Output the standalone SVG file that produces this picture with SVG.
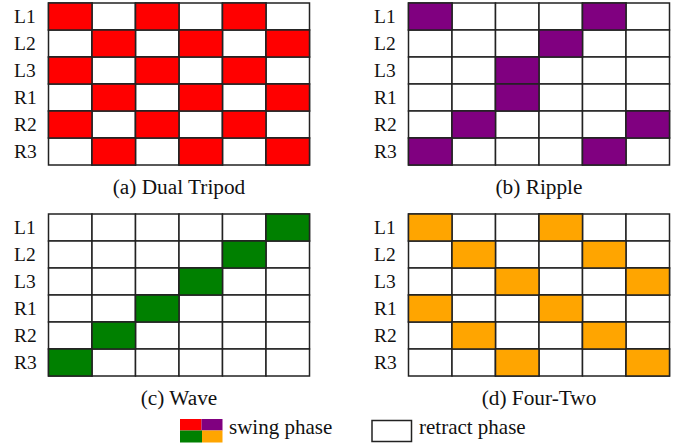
<svg xmlns="http://www.w3.org/2000/svg" width="684" height="444" viewBox="0 0 684 444">
<style>
.c{fill:#fff;stroke:#222;stroke-width:1.5}
.r{fill:#ff0000}.p{fill:#800080}.g{fill:#008000}.o{fill:#ffa500}
.lb{font-family:"Liberation Serif",serif;font-size:19.5px;fill:#111}
.lg{font-family:"Liberation Serif",serif;font-size:21px;fill:#111}
.cap{font-family:"Liberation Serif",serif;font-size:21.3px;fill:#111;text-anchor:middle}
</style>
<defs>
<g id="grid">
<rect class="c" x="0" y="0" width="43.5" height="27"/><rect class="c" x="43.5" y="0" width="43.5" height="27"/><rect class="c" x="87" y="0" width="43.5" height="27"/><rect class="c" x="130.5" y="0" width="43.5" height="27"/><rect class="c" x="174" y="0" width="43.5" height="27"/><rect class="c" x="217.5" y="0" width="43.5" height="27"/>
<rect class="c" x="0" y="27" width="43.5" height="27"/><rect class="c" x="43.5" y="27" width="43.5" height="27"/><rect class="c" x="87" y="27" width="43.5" height="27"/><rect class="c" x="130.5" y="27" width="43.5" height="27"/><rect class="c" x="174" y="27" width="43.5" height="27"/><rect class="c" x="217.5" y="27" width="43.5" height="27"/>
<rect class="c" x="0" y="54" width="43.5" height="27"/><rect class="c" x="43.5" y="54" width="43.5" height="27"/><rect class="c" x="87" y="54" width="43.5" height="27"/><rect class="c" x="130.5" y="54" width="43.5" height="27"/><rect class="c" x="174" y="54" width="43.5" height="27"/><rect class="c" x="217.5" y="54" width="43.5" height="27"/>
<rect class="c" x="0" y="81" width="43.5" height="27"/><rect class="c" x="43.5" y="81" width="43.5" height="27"/><rect class="c" x="87" y="81" width="43.5" height="27"/><rect class="c" x="130.5" y="81" width="43.5" height="27"/><rect class="c" x="174" y="81" width="43.5" height="27"/><rect class="c" x="217.5" y="81" width="43.5" height="27"/>
<rect class="c" x="0" y="108" width="43.5" height="27"/><rect class="c" x="43.5" y="108" width="43.5" height="27"/><rect class="c" x="87" y="108" width="43.5" height="27"/><rect class="c" x="130.5" y="108" width="43.5" height="27"/><rect class="c" x="174" y="108" width="43.5" height="27"/><rect class="c" x="217.5" y="108" width="43.5" height="27"/>
<rect class="c" x="0" y="135" width="43.5" height="27"/><rect class="c" x="43.5" y="135" width="43.5" height="27"/><rect class="c" x="87" y="135" width="43.5" height="27"/><rect class="c" x="130.5" y="135" width="43.5" height="27"/><rect class="c" x="174" y="135" width="43.5" height="27"/><rect class="c" x="217.5" y="135" width="43.5" height="27"/>
</g>
<g id="labels" class="lb">
<text x="-34.5" y="20">L1</text><text x="-34.5" y="47">L2</text><text x="-34.5" y="74">L3</text><text x="-34.5" y="101">R1</text><text x="-34.5" y="128">R2</text><text x="-34.5" y="155">R3</text>
</g>
</defs>

<g id="panel-a" transform="translate(48.5,3)">
<use href="#labels"/>
<use href="#grid"/>
<g class="r" stroke="#222" stroke-width="1.5">
<rect x="0" y="0" width="43.5" height="27"/><rect x="87" y="0" width="43.5" height="27"/><rect x="174" y="0" width="43.5" height="27"/>
<rect x="43.5" y="27" width="43.5" height="27"/><rect x="130.5" y="27" width="43.5" height="27"/><rect x="217.5" y="27" width="43.5" height="27"/>
<rect x="0" y="54" width="43.5" height="27"/><rect x="87" y="54" width="43.5" height="27"/><rect x="174" y="54" width="43.5" height="27"/>
<rect x="43.5" y="81" width="43.5" height="27"/><rect x="130.5" y="81" width="43.5" height="27"/><rect x="217.5" y="81" width="43.5" height="27"/>
<rect x="0" y="108" width="43.5" height="27"/><rect x="87" y="108" width="43.5" height="27"/><rect x="174" y="108" width="43.5" height="27"/>
<rect x="43.5" y="135" width="43.5" height="27"/><rect x="130.5" y="135" width="43.5" height="27"/><rect x="217.5" y="135" width="43.5" height="27"/>
</g>
<text class="cap" x="130.5" y="190.5">(a) Dual Tripod</text>
</g>

<g id="panel-b" transform="translate(408.5,3)">
<use href="#labels"/>
<use href="#grid"/>
<g class="p" stroke="#222" stroke-width="1.5">
<rect x="0" y="0" width="43.5" height="27"/><rect x="174" y="0" width="43.5" height="27"/>
<rect x="130.5" y="27" width="43.5" height="27"/>
<rect x="87" y="54" width="43.5" height="27"/>
<rect x="87" y="81" width="43.5" height="27"/>
<rect x="43.5" y="108" width="43.5" height="27"/><rect x="217.5" y="108" width="43.5" height="27"/>
<rect x="0" y="135" width="43.5" height="27"/><rect x="174" y="135" width="43.5" height="27"/>
</g>
<text class="cap" x="130.5" y="190.5">(b) Ripple</text>
</g>

<g id="panel-c" transform="translate(48.5,214)">
<use href="#labels"/>
<use href="#grid"/>
<g class="g" stroke="#222" stroke-width="1.5">
<rect x="217.5" y="0" width="43.5" height="27"/>
<rect x="174" y="27" width="43.5" height="27"/>
<rect x="130.5" y="54" width="43.5" height="27"/>
<rect x="87" y="81" width="43.5" height="27"/>
<rect x="43.5" y="108" width="43.5" height="27"/>
<rect x="0" y="135" width="43.5" height="27"/>
</g>
<text class="cap" x="130.5" y="190.5">(c) Wave</text>
</g>

<g id="panel-d" transform="translate(408.5,214)">
<use href="#labels"/>
<use href="#grid"/>
<g class="o" stroke="#222" stroke-width="1.5">
<rect x="0" y="0" width="43.5" height="27"/><rect x="130.5" y="0" width="43.5" height="27"/>
<rect x="43.5" y="27" width="43.5" height="27"/><rect x="174" y="27" width="43.5" height="27"/>
<rect x="87" y="54" width="43.5" height="27"/><rect x="217.5" y="54" width="43.5" height="27"/>
<rect x="0" y="81" width="43.5" height="27"/><rect x="130.5" y="81" width="43.5" height="27"/>
<rect x="43.5" y="108" width="43.5" height="27"/><rect x="174" y="108" width="43.5" height="27"/>
<rect x="87" y="135" width="43.5" height="27"/><rect x="217.5" y="135" width="43.5" height="27"/>
</g>
<text class="cap" x="130.5" y="190.5">(d) Four-Two</text>
</g>

<g id="legend">
<rect class="r" x="180" y="419" width="21.5" height="11.5"/>
<rect class="p" x="201.5" y="419" width="21" height="11.5"/>
<rect class="g" x="180" y="430.5" width="22" height="12"/>
<rect class="o" x="202" y="430.5" width="20.5" height="12"/>
<text class="lg" x="229" y="433.5">swing phase</text>
<rect class="c" x="372" y="420.5" width="39.5" height="21"/>
<text class="lg" x="419" y="433.5">retract phase</text>
</g>
</svg>
